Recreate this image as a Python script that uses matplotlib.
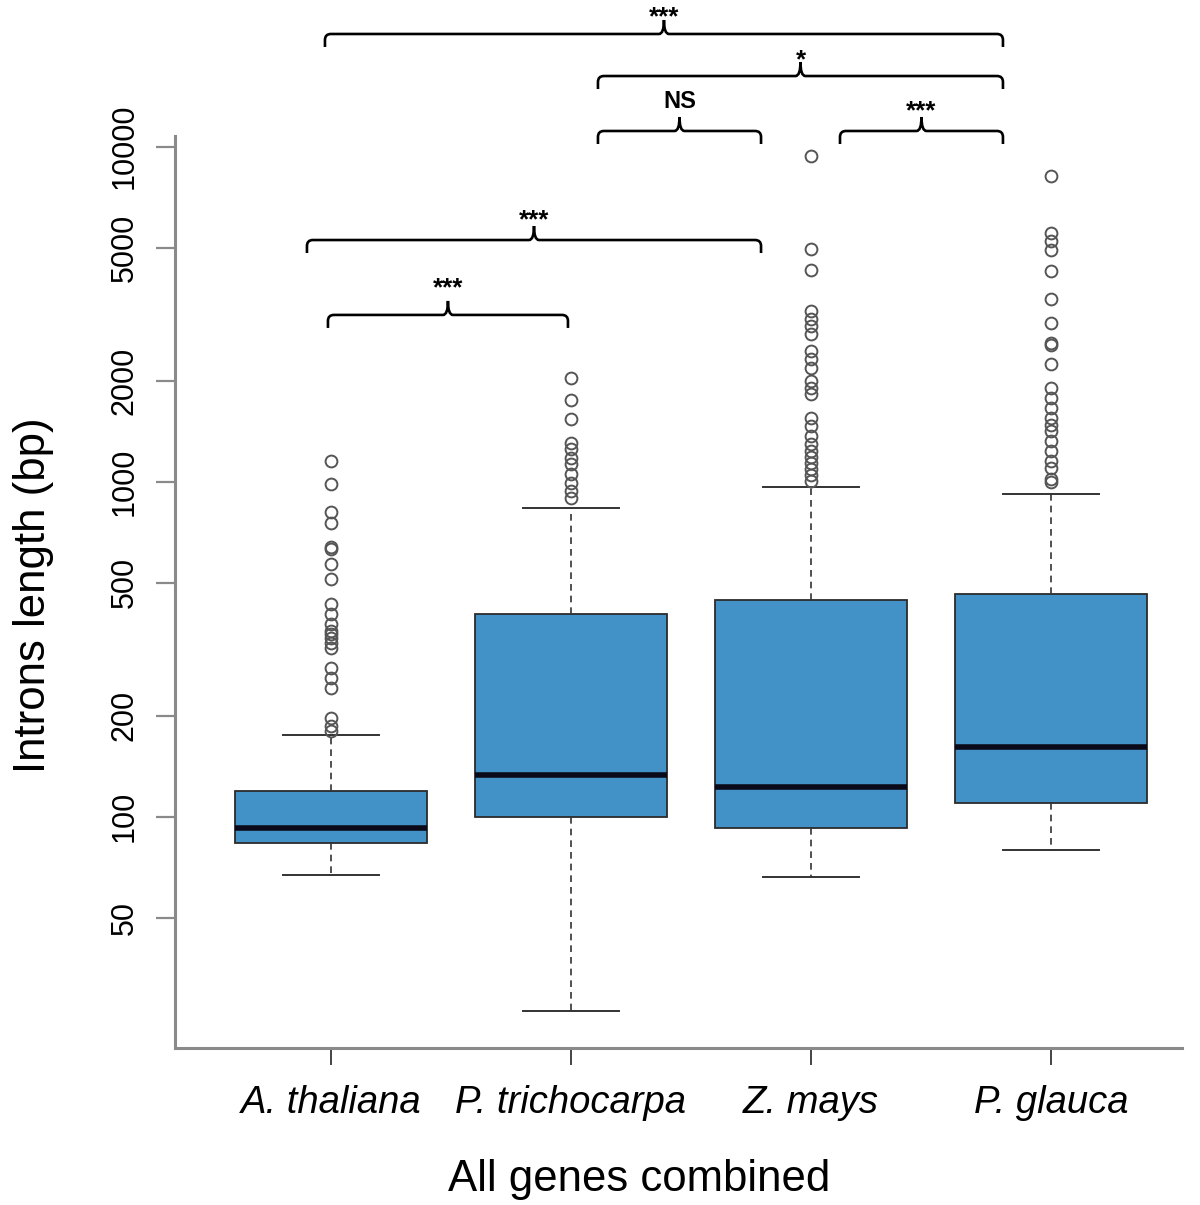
import numpy as np
import matplotlib
matplotlib.use("Agg")
import matplotlib.pyplot as plt
from matplotlib.path import Path
from matplotlib.patches import PathPatch
from matplotlib.ticker import NullLocator

plt.rcParams['font.family'] = ['Liberation Sans', 'DejaVu Sans']

species = ['A. thaliana', 'P. trichocarpa', 'Z. mays', 'P. glauca']

# box statistics (bp)
q1 = [83.5, 99.5, 92.5, 109.9]
medians = [92.5, 132.8, 122.3, 161.5]
q3 = [119.3, 401.7, 443.5, 462.0]
whis_lo = [67.0, 26.3, 66.1, 79.4]
whis_hi = [175.0, 832.0, 964.0, 919.0]

fliers_at = [1153, 984, 812, 752, 640, 628, 568, 512, 431, 402, 375, 358, 350, 341,
             330, 318, 277, 259, 242, 197, 186, 180]
fliers_pt = [2040, 1755, 1539, 1305, 1252, 1177, 1130, 1054, 991, 938, 894]
fliers_zm = [9405, 4960, 4291, 3237, 3063, 2920, 2762, 2458, 2327, 2188, 2000, 1905,
             1829, 1550, 1467, 1369, 1296, 1235, 1185, 1137, 1091, 1047, 1005]
fliers_pg = [8196, 5538, 5240, 4924, 4263, 3516, 2981, 2597, 2560, 2247, 1905, 1779,
             1661, 1550, 1475, 1418, 1323, 1235, 1153, 1099, 1019, 1000]
fliers = [fliers_at, fliers_pt, fliers_zm, fliers_pg]

y_ticks = [50, 100, 200, 500, 1000, 2000, 5000, 10000]

# significance brackets: left / right (group position), level (bp), label, label baseline (bp)
br_left = [0.975, 2.1125, 2.1125, 3.121, 0.9, 0.9875]
br_right = [3.8, 3.8, 2.792, 3.8, 2.792, 1.9875]
br_level = [21700, 16255, 11140, 11140, 5265, 3146]
br_label = ['***', '*', 'NS', '***', '***', '***']
br_text_y = [23200, 17300, 13050, 12160, 5750, 3600]

# layout: the axes fill the whole figure so the brackets can sit above the plot
W, H = 1200, 1205
XMIN, XMAX = -0.379, 4.621
YMIN, YMAX = 6.93, 27410.0
PX_X = W / (XMAX - XMIN)
PX_DEC = H / (np.log10(YMAX) - np.log10(YMIN))

fig = plt.figure(figsize=(W / 100, H / 100), dpi=100)
ax = fig.add_axes([0, 0, 1, 1])
ax.set_yscale('log')
ax.set_xlim(XMIN, XMAX)
ax.set_ylim(YMIN, YMAX)
ax.patch.set_alpha(0)

stats = []
for i in range(len(species)):
    stats.append(dict(med=medians[i], q1=q1[i], q3=q3[i], whislo=whis_lo[i],
                      whishi=whis_hi[i], fliers=fliers[i], label=species[i]))

ax.bxp(stats, positions=[1, 2, 3, 4], widths=0.8, patch_artist=True,
       boxprops=dict(facecolor='#4291c7', edgecolor='#2b2b2b', linewidth=1.3),
       medianprops=dict(color='#0a0a1a', linewidth=4.0, solid_capstyle='butt'),
       whiskerprops=dict(color='#333333', linewidth=1.2, linestyle=(0, (4, 3))),
       capprops=dict(color='#333333', linewidth=1.4),
       flierprops=dict(marker='o', markerfacecolor='none', markeredgecolor='#555555',
                       markersize=8.5, markeredgewidth=1.4))

# axes lines like R's bty="l"
y_bottom = 10 ** (3 - (1048 - 481.7) / 335)
y_top = 10 ** (3 + (481.7 - 136) / 335)
for side in ['top', 'right']:
    ax.spines[side].set_visible(False)
ax.spines['left'].set_position(('data', 0.35))
ax.spines['left'].set_bounds(y_bottom, y_top)
ax.spines['bottom'].set_position(('data', y_bottom))
ax.spines['bottom'].set_bounds(0.35, 4.546)
for side in ['left', 'bottom']:
    ax.spines[side].set_color('#8a8a8a')
    ax.spines[side].set_linewidth(2.2)

ax.yaxis.set_minor_locator(NullLocator())
ax.set_yticks(y_ticks)
ax.set_yticklabels([str(v) for v in y_ticks], rotation=90, va='center', fontsize=22)
ax.tick_params(axis='y', length=13.5, width=1.6, color='#8a8a8a', pad=12)

ax.set_xticks([1, 2, 3, 4])
ax.set_xticklabels(species, fontsize=27.5, style='italic')
ax.tick_params(axis='x', length=12, width=1.4, color='#444444', pad=15)


def up(v, d):
    # shift a value on the log axis by d pixels
    return v * 10 ** (d / PX_DEC)


def draw_bracket(x1, x2, y, label, ty):
    ux = 1 / PX_X
    drop, r, tip, w = 13, 6, 14, 5
    xm = (x1 + x2) / 2
    verts = [(x1, up(y, -drop)), (x1, up(y, -r)), (x1, y), (x1 + r * ux, y),
             (xm - w * ux, y), (xm, y), (xm, up(y, tip)), (xm, y), (xm + w * ux, y),
             (x2 - r * ux, y), (x2, y), (x2, up(y, -r)), (x2, up(y, -drop))]
    codes = [Path.MOVETO, Path.LINETO, Path.CURVE3, Path.CURVE3, Path.LINETO,
             Path.CURVE3, Path.CURVE3, Path.CURVE3, Path.CURVE3, Path.LINETO,
             Path.CURVE3, Path.CURVE3, Path.LINETO]
    ax.add_patch(PathPatch(Path(verts, codes), fill=False, edgecolor='black',
                           linewidth=1.9, clip_on=False))
    size = 17 if label == 'NS' else 18.5
    ax.text(xm, ty, label, ha='center', va='baseline', fontsize=size,
            fontweight='bold', clip_on=False)


for i in range(len(br_label)):
    draw_bracket(br_left[i], br_right[i], br_level[i], br_label[i], br_text_y[i])

fig.text(639 / W, 1 - 1180 / H, 'All genes combined',
         ha='center', va='center', fontsize=31.5)
fig.text(34 / W, 1 - 595 / H, 'Introns length (bp)', ha='center', va='center',
         rotation=90, fontsize=31.5)

fig.savefig('out.png', dpi=100)
